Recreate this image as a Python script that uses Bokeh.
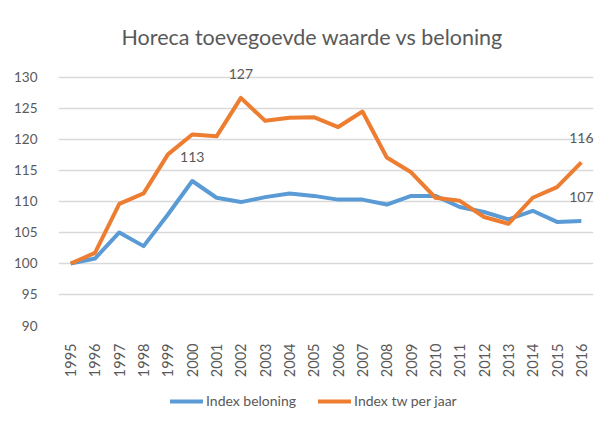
from bokeh.plotting import figure
from bokeh.models import (FactorRange, Range1d, FixedTicker, Legend, LegendItem,
                          ColumnDataSource, LabelSet)
from bokeh.layouts import column
from bokeh.embed import file_html
from bokeh.resources import INLINE
from bokeh.core.properties import value

years = [str(y) for y in range(1995, 2017)]
index_beloning = [100.0, 100.8, 105.0, 102.8, 107.9, 113.3, 110.6, 109.9, 110.7, 111.3, 110.9,
                  110.3, 110.3, 109.5, 110.9, 110.9, 109.1, 108.3, 107.1, 108.5, 106.7, 106.85]
index_tw = [100.0, 101.7, 109.6, 111.3, 117.6, 120.8, 120.5, 126.7, 123.0, 123.5, 123.6,
            122.0, 124.5, 117.1, 114.7, 110.6, 110.1, 107.5, 106.4, 110.6, 112.3, 116.3]
y_ticks = [90, 95, 100, 105, 110, 115, 120, 125, 130]

label_years = ["2002", "2000", "2016", "2016"]
label_values = [126.7, 113.3, 116.3, 106.85]
label_texts = ["127", "113", "116", "107"]

FONT = "Lato"
GREY = "#595959"
BLUE = "#5B9BD5"
ORANGE = "#ED7D31"

p = figure(width=596, height=380, x_range=FactorRange(*years), y_range=Range1d(90, 133.7),
           output_backend="svg", toolbar_location=None,
           min_border_left=58, min_border_right=3, min_border_top=54, min_border_bottom=55)

p.title.text = "Horeca toevegoevde waarde vs beloning"
p.title.align = "left"
p.title.offset = 63
p.title.text_font = FONT
p.title.text_font_size = "21.5px"
p.title.text_font_style = "normal"
p.title.text_color = GREY

src = ColumnDataSource(dict(year=years, bel=index_beloning, tw=index_tw))
p.line("year", "bel", source=src, line_color=BLUE, line_width=4, line_join="round")
p.line("year", "tw", source=src, line_color=ORANGE, line_width=4, line_join="round")

lsrc = ColumnDataSource(dict(x=label_years, y=label_values, t=label_texts))
labels = LabelSet(x="x", y="y", text="t", source=lsrc, text_align="center",
                  text_baseline="middle", y_offset=24, text_font=value(FONT),
                  text_font_size="14px", text_color=GREY)
p.add_layout(labels)

p.outline_line_color = None
p.xgrid.grid_line_color = None
p.ygrid.grid_line_color = "#d9d9d9"
p.ygrid.grid_line_width = 1.5
p.yaxis.ticker = FixedTicker(ticks=y_ticks)

for ax in (p.xaxis[0], p.yaxis[0]):
    ax.axis_line_color = None
    ax.major_tick_line_color = None
    ax.minor_tick_line_color = None
    ax.major_label_text_color = GREY
    ax.major_label_text_font = FONT

p.yaxis.major_label_text_font_size = "13.5px"
p.yaxis.major_label_standoff = 15
p.xaxis.major_label_text_font_size = "14.5px"
p.xaxis.major_label_orientation = 1.5708
p.xaxis.major_label_standoff = 12

# legend strip below the chart (its frame is aligned with the chart frame)
lg = figure(width=596, height=30, x_range=Range1d(0, 1), y_range=Range1d(0, 1),
            output_backend="svg", toolbar_location=None,
            x_axis_location=None, y_axis_location=None,
            min_border_left=0, min_border_right=0, min_border_top=0, min_border_bottom=0)
lg.outline_line_color = None
lg.xgrid.grid_line_color = None
lg.ygrid.grid_line_color = None
# legend-only renderers: their points lie outside the visible range
g1 = lg.line(x=[-2, -1], y=[-2, -1], line_color=BLUE, line_width=4, line_cap="round")
g2 = lg.line(x=[-2, -1], y=[-2, -1], line_color=ORANGE, line_width=4, line_cap="round")
legend = Legend(items=[LegendItem(label="Index beloning", renderers=[g1]),
                       LegendItem(label="Index tw per jaar", renderers=[g2])],
                orientation="horizontal", location=(112, 1),
                glyph_width=33, glyph_height=14, label_height=14,
                label_standoff=3, spacing=22, padding=0, margin=0,
                border_line_color=None, background_fill_alpha=0,
                label_text_font=FONT, label_text_font_size="14px", label_text_color=GREY)
lg.add_layout(legend)

open("out.html", "w").write(file_html(column(p, lg, spacing=0), INLINE))
